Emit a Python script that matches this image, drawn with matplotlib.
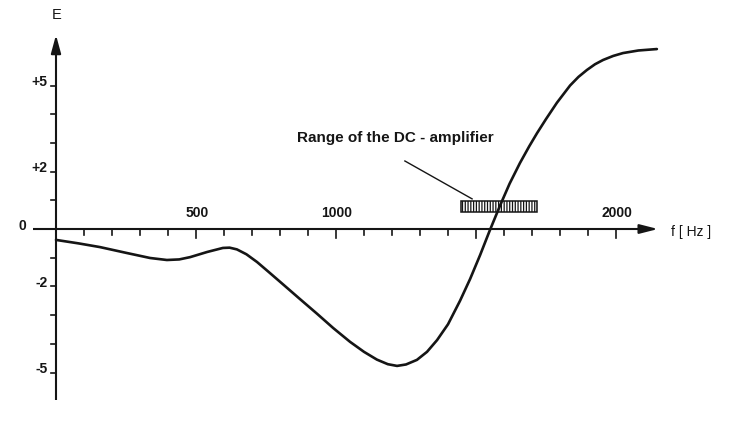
import matplotlib
matplotlib.use("Agg")
import matplotlib.pyplot as plt
from matplotlib.patches import Rectangle

plt.rcParams['font.family'] = ['Liberation Sans', 'DejaVu Sans']
plt.rcParams['hatch.linewidth'] = 0.9

# Data
freq_hz = [0, 80, 157, 250, 336, 396, 440, 479, 540, 596, 620, 646, 680, 718, 760,
           811, 870, 932, 990, 1050, 1100, 1146, 1185, 1218, 1250, 1289, 1325, 1361,
           1400, 1443, 1479, 1515, 1548, 1586, 1620, 1657, 1690, 1718, 1750, 1789,
           1836, 1866, 1896, 1925, 1954, 1990, 2025, 2080, 2146]
energy = [-0.38, -0.50, -0.63, -0.83, -1.01, -1.08, -1.06, -0.98, -0.80, -0.66, -0.65,
          -0.71, -0.88, -1.15, -1.50, -1.93, -2.43, -2.95, -3.45, -3.93, -4.28, -4.55,
          -4.71, -4.77, -4.72, -4.56, -4.28, -3.87, -3.32, -2.50, -1.74, -0.90, -0.08,
          0.82, 1.58, 2.30, 2.88, 3.34, 3.83, 4.40, 5.00, 5.30, 5.54, 5.74, 5.89,
          6.03, 6.13, 6.22, 6.27]

x_ticks = list(range(100, 2001, 100))
x_tick_labels = {500: '500', 1000: '1000', 2000: '2000'}
y_ticks = list(range(-5, 6))
y_tick_labels = {5: '+5', 2: '+2', 0: '0', -2: '-2', -5: '-5'}

dc_range = (1446, 1718)      # frequency range of DC amplifier box
dc_box_e = (0.59, 0.98)
dc_label = 'Range of the DC - amplifier'

fig = plt.figure(figsize=(7.35, 4.30), dpi=100)
ax = fig.add_axes([0, 0, 1, 1])
ax.set_xlim(-200, 2425)
ax.set_ylim(-7.003, 7.979)
ax.axis('off')

ink = '#151515'

# axes lines
ax.plot([-82, 2110], [0, 0], color=ink, lw=1.5, solid_capstyle='butt')
ax.plot([0, 0], [-5.96, 6.4], color=ink, lw=1.5, solid_capstyle='butt')
ax.annotate('', xy=(2150, 0), xytext=(2080, 0),
            arrowprops=dict(arrowstyle='-|>,head_length=1.1,head_width=0.28',
                            color=ink, lw=1.5, shrinkA=0, shrinkB=0))
ax.annotate('', xy=(0, 6.76), xytext=(0, 6.2),
            arrowprops=dict(arrowstyle='-|>,head_length=1.1,head_width=0.3',
                            color=ink, lw=1.5, shrinkA=0, shrinkB=0))

# x ticks (below axis)
for xt in x_ticks:
    L = 0.30 if xt % 500 == 0 else 0.20
    ax.plot([xt, xt], [0, -L], color=ink, lw=1.2)
    if xt in x_tick_labels:
        ax.text(xt + 3, 0.30, x_tick_labels[xt], ha='center', va='bottom',
                fontsize=10, fontweight='bold', color=ink)

# y ticks (left of axis)
for yt in y_ticks:
    if yt == 0:
        continue
    ax.plot([0, -18], [yt, yt], color=ink, lw=1.2)
for yt, lab in y_tick_labels.items():
    if yt == 0:
        ax.text(-120, 0.1, lab, ha='center', va='center', fontsize=10,
                fontweight='bold', color=ink)
    else:
        ax.text(-30, yt + 0.12, lab, ha='right', va='center', fontsize=10,
                fontweight='bold', color=ink)

# axis labels
ax.text(4, 7.45, 'E', ha='center', va='center', fontsize=10.5, color=ink)
ax.text(2268, -0.12, 'f [ Hz ]', ha='center', va='center', fontsize=10, color=ink)

# curve
ax.plot(freq_hz, energy, color=ink, lw=1.9, solid_joinstyle='round',
        solid_capstyle='round')

# DC amplifier range box
ax.add_patch(Rectangle((dc_range[0], dc_box_e[0]), dc_range[1] - dc_range[0],
                       dc_box_e[1] - dc_box_e[0], facecolor='white',
                       edgecolor=ink, lw=1.1, hatch='||||||', zorder=1))
ax.plot([1246, 1486], [2.37, 1.05], color=ink, lw=1.0)
ax.text(1211, 3.17, dc_label, ha='center', va='center', fontsize=11,
        fontweight='bold', color=ink)

fig.savefig('out.png', dpi=100, facecolor='white')
